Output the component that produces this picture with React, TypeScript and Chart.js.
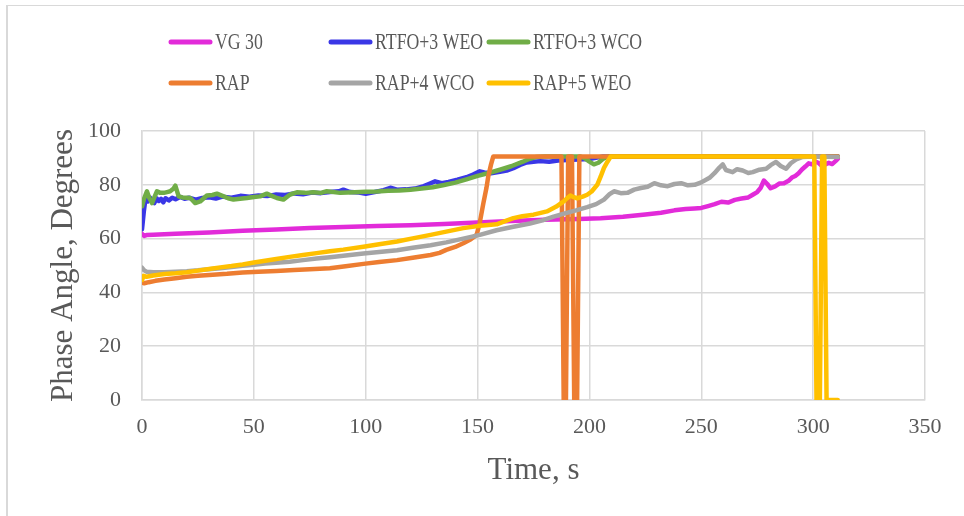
import React, { useEffect, useRef } from "react";
import { Chart, registerables } from "chart.js";

Chart.register(...registerables);

// ---- Data (time in s, phase angle in degrees) ----
const xTicks = [0, 50, 100, 150, 200, 250, 300, 350];
const yTicks = [0, 20, 40, 60, 80, 100];

const seriesNames = ["VG 30", "RTFO+3 WEO", "RTFO+3 WCO", "RAP", "RAP+4 WCO", "RAP+5 WEO"];
const seriesColors = ["#E22BD9", "#3A37E6", "#70AD47", "#ED7D31", "#A5A5A5", "#FFC000"];

const vg30: number[][] = [
  [0, 61.8], [1, 61], [2, 61.3], [5, 61.4], [15, 61.8], [30, 62.3], [45, 62.9], [60, 63.4], [75, 63.9],
  [90, 64.3], [105, 64.7], [120, 65], [135, 65.4], [150, 66], [165, 66.5], [180, 67], [195, 67.3],
  [205, 67.6], [215, 68.1], [225, 69], [232, 69.6], [238, 70.5], [243, 71], [247, 71.2], [250, 71.4],
  [253, 72.1], [256, 72.8], [259, 73.7], [262, 73.4], [265, 74.4], [268, 74.9], [271, 75.3], [273, 76.3],
  [275, 77.3], [276.5, 78.8], [278, 81.6], [279.5, 80.3], [281, 78.7], [283, 79.4], [285, 80.5], [287, 80.6],
  [289, 81.5], [290.5, 82.7], [292, 83.3], [293.5, 84.3], [295, 85.7], [296.5, 86.8], [298, 88], [299.5, 87.6],
  [301, 88.6], [302.5, 88.1], [304, 86.9], [305.5, 87.6], [307, 88.2], [308.5, 87.7], [310, 88.8], [311, 89.6],
];

const rtfoWeo: number[][] = [
  [0, 63.5], [0.8, 70], [1.5, 74.5], [2.5, 73.8], [3.5, 75.3], [4.5, 74], [5.5, 73.2], [6.5, 75], [7.5, 74],
  [8.5, 74.8], [9.5, 73.5], [10.5, 75], [12, 74.2], [13.5, 75.2], [15, 74.6], [17, 75.5], [19, 74.8],
  [21, 75.2], [24, 74.5], [27, 75.1], [30, 75.4], [33, 74.9], [36, 75.6], [40, 75.2], [44, 75.9], [48, 75.6],
  [52, 76], [56, 75.8], [60, 76.4], [64, 76.2], [68, 76.8], [72, 76.5], [76, 77.1], [80, 76.9], [84, 77.3],
  [88, 77.6], [90, 78.2], [93, 77.3], [97, 77.1], [100, 76.7], [104, 77.3], [108, 78], [111, 78.9],
  [114, 78.2], [118, 78.3], [122, 78.6], [126, 79.5], [129, 80.6], [131, 81.3], [134, 80.6], [137, 81.1],
  [141, 81.9], [145, 82.8], [148, 83.8], [151, 85], [153, 84.6], [156, 84.3], [160, 84.8], [163, 85.3],
  [166, 86.2], [169, 87.4], [172, 88.3], [175, 88.6], [178, 88.8], [182, 88.6], [186, 89], [190, 89.2],
  [195, 89.4], [200, 89.6], [204, 90.2], [206, 90.5], [311, 90.5],
];

const rtfoWco: number[][] = [
  [0, 72], [1, 75], [2.2, 77.6], [3.3, 75], [4.5, 73.2], [5.6, 75.5], [6.7, 77.6], [8.2, 77], [9.7, 77],
  [11.2, 77.3], [12.6, 77.6], [14, 78.5], [14.9, 79.7], [16.4, 75.7], [18, 75.3], [20, 75.2], [21.6, 75.1],
  [23.8, 73.2], [26, 73.8], [29, 76], [31.5, 76.2], [33.5, 76.7], [36.5, 75.7], [38.5, 75], [40.9, 74.5],
  [43.8, 74.8], [46.9, 75.1], [50, 75.5], [52.8, 75.7], [55.8, 76.7], [58, 75.9], [60.3, 75.1], [63.2, 74.5],
  [66.2, 76.4], [69.2, 77.2], [73, 77], [76.6, 77.2], [80, 77], [82.6, 77.6], [88.6, 77], [95, 77.2],
  [100, 77.4], [105, 77.5], [110, 77.8], [115, 77.9], [120, 78.2], [125, 78.6], [130, 79.1], [135, 79.9],
  [140, 80.8], [145, 82], [150, 83.3], [155, 84.4], [160, 85.6], [165, 86.9], [170, 88.5], [173, 89.6],
  [176, 90.3], [180, 90.5], [196, 90.5], [198, 89.8], [200, 88.6], [202, 87.6], [204, 88.2], [206, 89.6],
  [208, 90.5], [311, 90.5],
];

const rap: number[][] = [
  [0, 43.6], [1, 43.4], [3, 43.8], [6, 44.3], [10, 44.8], [15, 45.3], [20, 45.8], [25, 46.2], [30, 46.5],
  [38, 46.9], [45, 47.4], [52, 47.7], [60, 48], [68, 48.3], [75, 48.6], [84, 49], [91, 49.7], [99, 50.6],
  [106, 51.3], [114, 52], [121, 52.9], [129, 53.9], [133, 54.7], [136, 55.8], [140, 56.9], [143.6, 58.3],
  [147, 59.8], [149.6, 61.4], [151, 66], [152.6, 73.2], [154, 79], [154.8, 83.2], [156, 87.5], [157, 90.5],
  [187.5, 90.5], [188.5, 0], [189.5, 0], [190.5, 90.5], [192.2, 90.5], [193.2, 0], [194.5, 0], [195.5, 90.5],
  [311, 90.5],
];

const rapWco: number[][] = [
  [0, 49.2], [1, 48.2], [2, 47.7], [5, 47.5], [10, 47.5], [15, 47.7], [20, 47.9], [25, 48.2], [30, 48.6],
  [35, 49], [40, 49.4], [45, 49.9], [50, 50.3], [55, 50.7], [60, 51], [66, 51.4], [72, 52], [78, 52.6],
  [84, 53.1], [90, 53.6], [99, 54.5], [106, 55], [114, 55.7], [121, 56.6], [129, 57.5], [136, 58.6],
  [143.6, 60], [151, 61.4], [158.5, 63.1], [166, 64.4], [173.4, 65.6], [179, 66.8], [184, 68.2], [189, 69.4],
  [194, 70.5], [199, 71.7], [203, 72.8], [206.5, 74.5], [209, 76.5], [211, 77.6], [214, 76.9], [217, 77],
  [220, 78.2], [223, 78.8], [226, 79.3], [229, 80.6], [232, 79.8], [235, 79.5], [238, 80.3], [241, 80.6],
  [244, 79.8], [247, 80], [250, 80.9], [253.7, 82.6], [256, 84.4], [258, 86.3], [259.6, 87.6], [261, 85.5],
  [264, 84.7], [266, 85.8], [268.5, 85.3], [271, 84.4], [273, 84.7], [276, 85.6], [279, 86], [281, 87.3],
  [283.4, 88.5], [285.5, 87], [287.9, 86], [290, 88], [292.4, 89.4], [295, 90.3], [300, 90.5], [311, 90.3],
];

const rapWeo: number[][] = [
  [0, 44.6], [0.8, 46.2], [2, 45.8], [5, 46.3], [10, 46.8], [15, 47.1], [20, 47.5], [25, 48.1], [30, 48.7],
  [35, 49.3], [40, 49.8], [45, 50.4], [50, 51.1], [55, 51.8], [60, 52.4], [66, 53.2], [72, 53.9], [78, 54.6],
  [84, 55.3], [90, 55.9], [99, 57], [106, 57.9], [114, 58.9], [121, 60.1], [129, 61.4], [136, 62.6],
  [143.6, 63.9], [151, 64.8], [158.5, 65.3], [162, 66.4], [166, 67.6], [170, 68.3], [175, 68.9], [181, 70.1],
  [185, 71.8], [188.5, 73.8], [190, 75], [191.5, 76], [193, 75.4], [194.5, 75], [197, 75.6], [199, 76.3],
  [201, 77.5], [203.5, 80], [205, 83], [206.5, 86.3], [208, 88.5], [209.5, 90.5], [300.5, 90.5], [301.5, 0],
  [303, 0], [304, 90.5], [305, 90.5], [306, 0], [311, 0],
];

const seriesData = [vg30, rtfoWeo, rtfoWco, rap, rapWco, rapWeo];

const FONT = "'Liberation Serif', 'Times New Roman', serif";
const TEXT = "#595959";
const GRID = "#d9d9d9";

const legendPlugin = {
  id: "customLegend",
  afterDraw(chart: any) {
    const ctx = chart.ctx;
    const cols = [170, 330, 488];
    const rows = [42, 83];
    ctx.save();
    seriesNames.forEach((name, i) => {
      const cx = cols[i % 3];
      const cy = rows[Math.floor(i / 3)];
      ctx.strokeStyle = seriesColors[i];
      ctx.lineWidth = 5;
      ctx.lineCap = "round";
      ctx.beginPath();
      ctx.moveTo(cx + 1, cy);
      ctx.lineTo(cx + 40, cy);
      ctx.stroke();
      ctx.save();
      ctx.translate(cx + 45, cy + 1);
      ctx.scale(0.74, 1);
      ctx.font = `24px ${FONT}`;
      ctx.fillStyle = TEXT;
      ctx.textBaseline = "middle";
      ctx.textAlign = "left";
      ctx.fillText(name, 0, 0);
      ctx.restore();
    });
    ctx.restore();
  },
};

export default function App() {
  const ref = useRef<HTMLCanvasElement | null>(null);

  useEffect(() => {
    if (!ref.current) return;
    const chart = new Chart(ref.current, {
      type: "line",
      data: {
        datasets: seriesNames.map((name, i) => ({
          label: name,
          data: seriesData[i].map(([x, y]) => ({ x, y })),
          borderColor: seriesColors[i],
          backgroundColor: seriesColors[i],
          borderWidth: 4.5,
          pointRadius: 0,
          tension: 0,
          order: seriesNames.length - i,
          borderJoinStyle: "round" as const,
          borderCapStyle: "round" as const,
        })),
      },
      options: {
        animation: false,
        responsive: false,
        devicePixelRatio: 1,
        layout: { padding: { top: 131, right: 39, bottom: 0, left: 0 } },
        plugins: { legend: { display: false }, tooltip: { enabled: false } },
        scales: {
          x: {
            type: "linear",
            min: 0,
            max: 350,
            afterBuildTicks: (s: any) => {
              s.ticks = xTicks.map((v) => ({ value: v }));
            },
            afterFit: (s: any) => {
              s.height = 116;
            },
            grid: { color: GRID, lineWidth: 1.5, drawTicks: false },
            border: { color: GRID, width: 1.5 },
            ticks: { color: TEXT, font: { family: FONT, size: 22 }, padding: 14, maxRotation: 0 },
            title: {
              display: true,
              text: "Time, s",
              color: TEXT,
              font: { family: FONT, size: 31 },
              padding: { top: 0, bottom: 27 },
            },
          },
          y: {
            type: "linear",
            min: 0,
            max: 100,
            afterBuildTicks: (s: any) => {
              s.ticks = yTicks.map((v) => ({ value: v }));
            },
            afterFit: (s: any) => {
              s.width = 142;
            },
            grid: { color: GRID, lineWidth: 1.5, drawTicks: false },
            border: { color: GRID, width: 1.5 },
            ticks: { color: TEXT, font: { family: FONT, size: 22 }, padding: 21 },
            title: {
              display: true,
              text: "Phase Angle, Degrees",
              color: TEXT,
              font: { family: FONT, size: 31 },
              padding: { top: 45, bottom: 0 },
            },
          },
        },
      },
      plugins: [legendPlugin],
    });
    return () => chart.destroy();
  }, []);

  return (
    <div style={{ position: "absolute", left: 0, top: 0, width: 964, height: 516, background: "#fff" }}>
      <div
        style={{
          position: "absolute",
          left: 6,
          top: 5,
          width: 956,
          height: 511,
          borderLeft: "2px solid #d9d9d9",
          borderTop: "1px solid #d9d9d9",
        }}
      />
      <canvas ref={ref} width={964} height={516} style={{ position: "absolute", left: 0, top: 0 }} />
    </div>
  );
}
